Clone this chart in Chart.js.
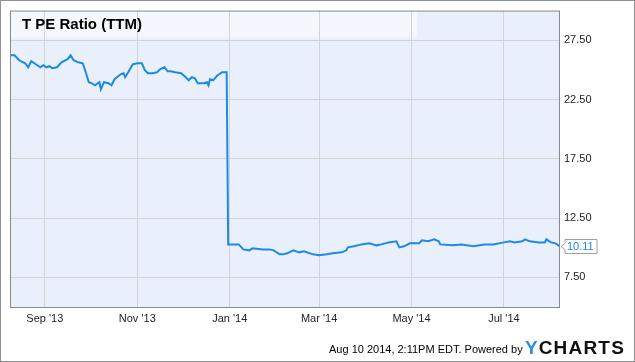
<!DOCTYPE html>
<html>
<head>
<meta charset="utf-8">
<script src="https://cdn.jsdelivr.net/npm/chart.js@4.4.1/dist/chart.umd.min.js"></script>
<style>
  html, body { margin: 0; padding: 0; background: #fff; }
  #wrap { position: relative; width: 635px; height: 362px; }
</style>
</head>
<body>
<div id="wrap"><canvas id="peChart" width="635" height="362"></canvas></div>
<script>
// T PE Ratio (TTM)
const dates = [
  '2013-08-09','2013-08-12','2013-08-15','2013-08-19','2013-08-21','2013-08-23','2013-08-27','2013-08-29','2013-08-31',
  '2013-09-02','2013-09-04','2013-09-06','2013-09-09','2013-09-12','2013-09-16','2013-09-18','2013-09-20','2013-09-23',
  '2013-09-26','2013-09-28','2013-09-30','2013-10-02','2013-10-04','2013-10-07','2013-10-08','2013-10-10','2013-10-13',
  '2013-10-15','2013-10-17','2013-10-21','2013-10-23','2013-10-24','2013-10-26','2013-10-29','2013-11-01','2013-11-04',
  '2013-11-06','2013-11-08','2013-11-11','2013-11-14','2013-11-16','2013-11-19','2013-11-21','2013-11-23','2013-11-26',
  '2013-11-30','2013-12-03','2013-12-05','2013-12-07','2013-12-09','2013-12-11','2013-12-15','2013-12-17','2013-12-18',
  '2013-12-19','2013-12-21','2013-12-24','2013-12-27','2013-12-30','2013-12-31','2014-01-07','2014-01-10','2014-01-14',
  '2014-01-16','2014-01-23','2014-01-27','2014-01-30','2014-02-03','2014-02-05','2014-02-08','2014-02-12','2014-02-16',
  '2014-02-19','2014-02-25','2014-03-01','2014-03-06','2014-03-10','2014-03-16','2014-03-19','2014-03-20','2014-03-24',
  '2014-03-29','2014-04-03','2014-04-08','2014-04-11','2014-04-16','2014-04-21','2014-04-23','2014-04-26','2014-04-30',
  '2014-05-06','2014-05-08','2014-05-12','2014-05-16','2014-05-19','2014-05-20','2014-05-28','2014-06-03','2014-06-11',
  '2014-06-18','2014-06-24','2014-07-01','2014-07-05','2014-07-08','2014-07-13','2014-07-15','2014-07-18','2014-07-24',
  '2014-07-28','2014-07-29','2014-08-01','2014-08-04','2014-08-07'
];
const peValues = [
  26.23, 26.23, 25.81, 25.56, 25.22, 25.73, 25.39, 25.22, 25.39,
  25.22, 25.31, 25.14, 25.22, 25.64, 25.90, 26.23, 25.81, 25.64,
  25.56, 24.80, 23.96, 23.87, 23.70, 23.96, 23.37, 23.96, 23.87,
  23.70, 24.21, 24.63, 24.72, 24.38, 24.80, 25.47, 25.56, 25.56,
  24.97, 24.72, 24.72, 24.80, 25.05, 25.22, 24.88, 24.88, 24.80,
  24.72, 24.38, 24.12, 24.38, 24.29, 23.87, 23.87, 23.96, 23.70,
  24.21, 24.12, 24.55, 24.80, 24.80, 10.28, 10.28, 9.86, 9.78,
  9.95, 9.86, 9.86, 9.78, 9.44, 9.44, 9.53, 9.78, 9.61,
  9.69, 9.44, 9.36, 9.44, 9.53, 9.61, 9.78, 10.03, 10.12,
  10.28, 10.37, 10.20, 10.28, 10.45, 10.54, 10.03, 10.12, 10.37,
  10.37, 10.62, 10.54, 10.71, 10.54, 10.28, 10.20, 10.28, 10.12,
  10.28, 10.28, 10.45, 10.54, 10.45, 10.54, 10.71, 10.54, 10.45,
  10.45, 10.71, 10.45, 10.37, 10.11
];
const tickDates = ['2013-09-01', '2013-11-01', '2014-01-01', '2014-03-01', '2014-05-01', '2014-07-01'];
const tickLabels = ["Sep '13", "Nov '13", "Jan '14", "Mar '14", "May '14", "Jul '14"];
const yTicks = [7.5, 12.5, 17.5, 22.5, 27.5];
const lastLabel = '10.11';

const FONT = '"Liberation Sans", Arial, sans-serif';
const LINE_BLUE = '#1b8ae6';

// days since the first date, so a plain linear axis can be used
const base = Date.parse(dates[0]);
const toDay = s => Math.round((Date.parse(s) - base) / 86400000);
const points = dates.map((d, i) => ({ x: toDay(d), y: peValues[i] }));
const tickDays = tickDates.map(toDay);

const framePlugin = {
    id: 'frame',
    beforeDraw(chart) {
        const { ctx, chartArea: a } = chart;
        ctx.save();
        ctx.fillStyle = '#fff';
        ctx.fillRect(0, 0, chart.width, chart.height);
        ctx.fillStyle = '#eaf0fb';
        ctx.fillRect(a.left, a.top, a.right - a.left, a.bottom - a.top);
        // lighter title band
        ctx.fillStyle = '#f4f7fd';
        ctx.fillRect(a.left, a.top, 407, 27);
        ctx.restore();
    },
    afterDraw(chart) {
        const { ctx, chartArea: a } = chart;
        ctx.save();
        // plot border
        ctx.strokeStyle = '#8a8a8a';
        ctx.lineWidth = 1;
        ctx.strokeRect(a.left + 0.5, a.top + 0.5, a.right - a.left - 1, a.bottom - a.top);
        // outer border
        ctx.strokeStyle = '#909090';
        ctx.strokeRect(0.5, 0.5, chart.width - 1, chart.height - 1);

        // title
        ctx.fillStyle = '#000';
        ctx.font = 'bold 15px ' + FONT;
        ctx.textBaseline = 'alphabetic';
        ctx.textAlign = 'left';
        ctx.fillText('T PE Ratio (TTM)', 22, 29);

        // last value tag
        const yPix = chart.scales.y.getPixelForValue(peValues[peValues.length - 1]);
        const bx = 565, bw = 32, bh = 14, by = Math.round(yPix - bh / 2) + 0.5;
        ctx.fillStyle = '#fff';
        ctx.strokeStyle = '#a0a0a0';
        ctx.beginPath();
        ctx.moveTo(bx, by);
        ctx.lineTo(bx + bw, by);
        ctx.lineTo(bx + bw, by + bh);
        ctx.lineTo(bx, by + bh);
        ctx.lineTo(bx, by + bh / 2 + 3);
        ctx.lineTo(bx - 4, by + bh / 2);
        ctx.lineTo(bx, by + bh / 2 - 3);
        ctx.closePath();
        ctx.fill();
        ctx.stroke();
        ctx.fillStyle = LINE_BLUE;
        ctx.font = '11px ' + FONT;
        ctx.textBaseline = 'middle';
        ctx.fillText(lastLabel, bx + 2, by + bh / 2 + 0.5);

        // footer
        ctx.fillStyle = '#000';
        ctx.font = '11px ' + FONT;
        ctx.textBaseline = 'alphabetic';
        ctx.fillText('Aug 10 2014, 2:11PM EDT. Powered by', 329, 353);
        ctx.font = 'bold 19px ' + FONT;
        ctx.fillStyle = '#2f8ee0';
        ctx.fillText('Y', 525, 354);
        ctx.fillStyle = '#111';
        const yw = ctx.measureText('Y').width;
        let cx = 525 + yw + 1;
        for (const ch of 'CHARTS') {
            ctx.fillText(ch, cx, 354);
            cx += ctx.measureText(ch).width + 1.2;
        }
        ctx.restore();
    }
};

const ctx = document.getElementById('peChart').getContext('2d');
new Chart(ctx, {
    type: 'line',
    data: {
        datasets: [{
            data: points,
            borderColor: LINE_BLUE,
            borderWidth: 2,
            pointRadius: 0,
            tension: 0,
            fill: false
        }]
    },
    options: {
        responsive: false,
        animation: false,
        events: [],
        layout: { padding: { left: 10, top: 10, right: 0, bottom: 0 } },
        plugins: { legend: { display: false }, tooltip: { enabled: false } },
        scales: {
            x: {
                type: 'linear',
                min: points[0].x,
                max: points[points.length - 1].x,
                afterBuildTicks: scale => { scale.ticks = tickDays.map(v => ({ value: v })); },
                afterFit: scale => { scale.height = 55; },
                grid: { color: '#d3d3d3', drawTicks: false },
                border: { display: false },
                ticks: {
                    padding: 5,
                    maxRotation: 0,
                    autoSkip: false,
                    color: '#222',
                    font: { family: FONT, size: 11 },
                    callback: v => tickLabels[tickDays.indexOf(v)]
                }
            },
            y: {
                position: 'right',
                min: 5,
                max: 30,
                afterBuildTicks: scale => { scale.ticks = yTicks.map(v => ({ value: v })); },
                afterFit: scale => { scale.width = 75; },
                grid: { color: '#d3d3d3', drawTicks: false },
                border: { display: false },
                ticks: {
                    padding: 4,
                    color: '#222',
                    font: { family: FONT, size: 11 },
                    callback: v => v.toFixed(2)
                }
            }
        }
    },
    plugins: [framePlugin]
});
</script>
</body>
</html>
